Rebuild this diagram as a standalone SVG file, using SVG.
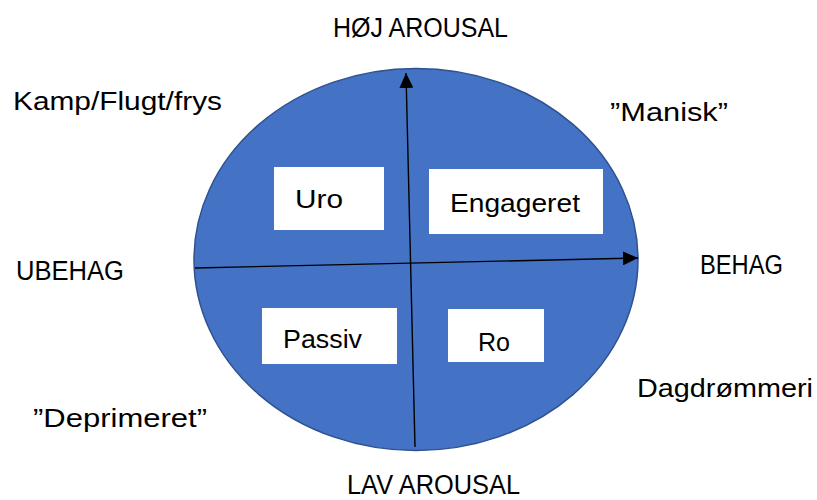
<svg xmlns="http://www.w3.org/2000/svg" width="817" height="500" viewBox="0 0 817 500">
<style>
text{font-family:"Liberation Sans",Arial,sans-serif;font-size:26px;fill:#000;}
.cap{font-size:27px;}
.box{fill:#fff;}
.axis{stroke:#000;stroke-width:1.4;fill:none;marker-end:url(#ah);}
</style>
<defs>
<marker id="ah" markerUnits="userSpaceOnUse" markerWidth="16" markerHeight="14" refX="15" refY="7" orient="auto">
<path d="M0,0 L15,7 L0,14 Z" fill="#000"/>
</marker>
</defs>
<rect width="817" height="500" fill="#fff"/>
<g id="ellipse">
<ellipse cx="416" cy="259.5" rx="222" ry="191" fill="#4472C4" stroke="#2F528F" stroke-width="1.5"/>
</g>
<g id="connectors">
<line class="axis" x1="415" y1="447" x2="406" y2="73"/>
<line class="axis" x1="195" y1="268" x2="638" y2="258"/>
</g>
<g id="uro"><rect class="box" x="274" y="167" width="110" height="63"/><text x="295" y="208" textLength="48" lengthAdjust="spacingAndGlyphs">Uro</text></g>
<g id="engageret"><rect class="box" x="429" y="169" width="174" height="65"/><text x="450" y="212" textLength="130" lengthAdjust="spacingAndGlyphs">Engageret</text></g>
<g id="passiv"><rect class="box" x="262" y="308" width="135" height="56"/><text x="283" y="348" textLength="79" lengthAdjust="spacingAndGlyphs">Passiv</text></g>
<g id="ro"><rect class="box" x="448" y="309" width="96" height="53"/><text x="478" y="351" textLength="32" lengthAdjust="spacingAndGlyphs">Ro</text></g>
<g id="hoj"><text class="cap" x="333" y="37" textLength="175" lengthAdjust="spacingAndGlyphs">HØJ AROUSAL</text></g>
<g id="lav"><text class="cap" x="347" y="494" textLength="173" lengthAdjust="spacingAndGlyphs">LAV AROUSAL</text></g>
<g id="ubehag"><text class="cap" x="16" y="280" textLength="108" lengthAdjust="spacingAndGlyphs">UBEHAG</text></g>
<g id="behag"><text class="cap" x="700" y="274" textLength="83" lengthAdjust="spacingAndGlyphs">BEHAG</text></g>
<g id="kamp"><text x="13" y="110" textLength="209" lengthAdjust="spacingAndGlyphs">Kamp/Flugt/frys</text></g>
<g id="manisk"><text x="610" y="121" textLength="118" lengthAdjust="spacingAndGlyphs">”Manisk”</text></g>
<g id="dagdrommeri"><text x="637" y="397" textLength="176" lengthAdjust="spacingAndGlyphs">Dagdrømmeri</text></g>
<g id="deprimeret"><text x="33" y="427" textLength="174" lengthAdjust="spacingAndGlyphs">”Deprimeret”</text></g>
</svg>
